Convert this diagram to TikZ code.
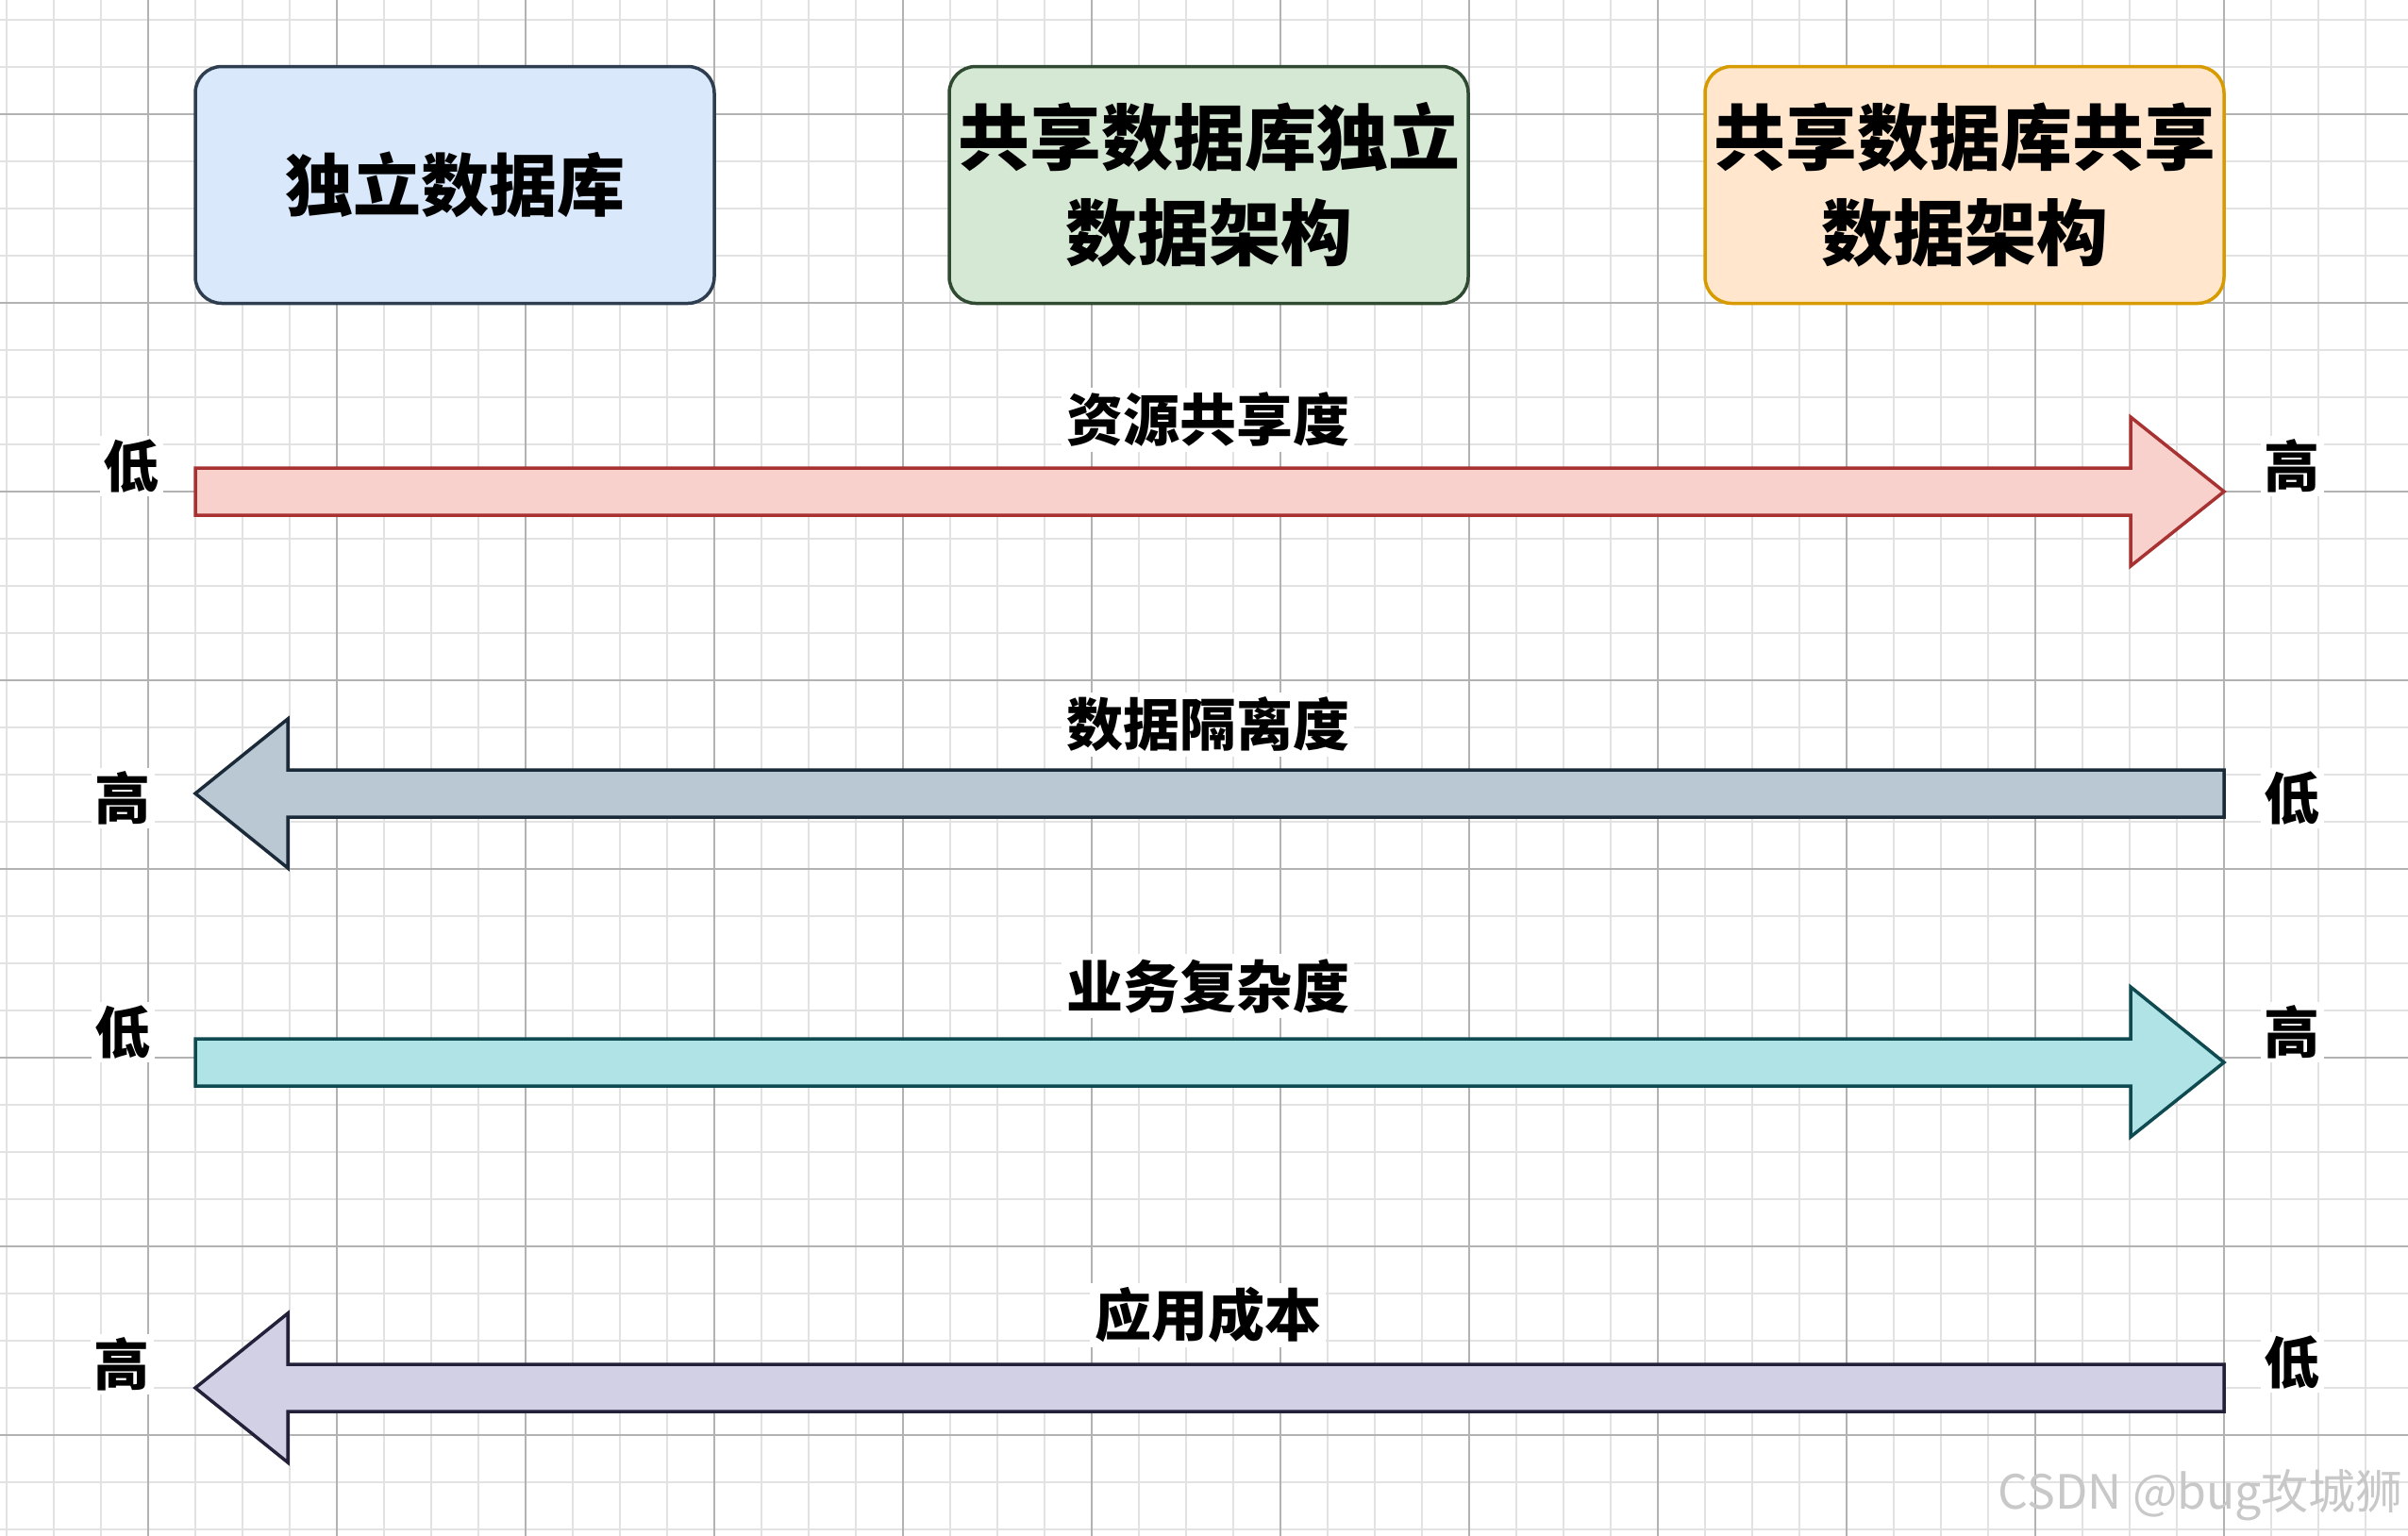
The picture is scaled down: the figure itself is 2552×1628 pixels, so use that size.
\documentclass[tikz,border=0pt]{standalone}
\usepackage{fontspec}
\setmainfont{Noto Sans CJK SC}
\definecolor{gridminor}{HTML}{E2E2E2}
\definecolor{gridmajor}{HTML}{B2B2B2}
\definecolor{bluefill}{HTML}{DAE8FC}
\definecolor{bluedraw}{HTML}{2E3D4F}
\definecolor{greenfill}{HTML}{D5E8D4}
\definecolor{greendraw}{HTML}{2F4A30}
\definecolor{orangefill}{HTML}{FFE6CC}
\definecolor{orangedraw}{HTML}{D79B00}
\definecolor{redfill}{HTML}{F8D0CC}
\definecolor{reddraw}{HTML}{A83232}
\definecolor{slatefill}{HTML}{BAC8D3}
\definecolor{slatedraw}{HTML}{1A2A38}
\definecolor{tealfill}{HTML}{B0E3E6}
\definecolor{tealdraw}{HTML}{0E4A50}
\definecolor{lavfill}{HTML}{D2D0E4}
\definecolor{lavdraw}{HTML}{23213A}
\definecolor{wmark}{HTML}{C8C8C8}
\tikzset{
  archbox/.style={rounded corners=28, line width=3.5, minimum width=550, minimum height=251,
    align=center, inner sep=0, font=\fontsize{76}{101}\selectfont\bfseries},
  barlabel/.style={font=\fontsize{60}{60}\selectfont\bfseries, fill=white, inner sep=5},
  endlabel/.style={font=\fontsize{59}{59}\selectfont\bfseries, fill=white, inner sep=4},
  blockarrow/.style={line width=3.5, line join=miter},
}
\begin{document}
\begin{tikzpicture}[x=1pt,y=-1pt]
\useasboundingbox (0,0) rectangle (2552,1628);
\fill[white] (0,0) rectangle (2552,1628);
% grid
\foreach \gx in {7,57,...,2552} \draw[gridminor, line width=1.6] (\gx,0) -- (\gx,1628);
\foreach \gy in {21,71,...,1628} \draw[gridminor, line width=1.6] (0,\gy) -- (2552,\gy);
\foreach \gx in {157,357,...,2552} \draw[gridmajor, line width=1.8] (\gx,0) -- (\gx,1628);
\foreach \gy in {121,321,...,1628} \draw[gridmajor, line width=1.8] (0,\gy) -- (2552,\gy);

% boxes
\node[archbox, fill=bluefill, draw=bluedraw, font=\fontsize{72}{101}\selectfont\bfseries] (indep) at (482,196) {独立数据库};
\node[archbox, fill=greenfill, draw=greendraw] (sharedindep) at (1281,196) {共享数据库独立\\数据架构};
\node[archbox, fill=orangefill, draw=orangedraw] (sharedshared) at (2082,196) {共享数据库共享\\数据架构};

% arrow 1: resource sharing (right)
\draw[blockarrow, fill=redfill, draw=reddraw]
  (207,496) -- (2258,496) -- (2258,442) -- (2357,521) -- (2258,600) -- (2258,546) -- (207,546) -- cycle;
\node[barlabel] (l1) at (1280,445) {资源共享度};
\node[endlabel] (l1a) at (139,494) {低};
\node[endlabel] (l1b) at (2429,494) {高};

% arrow 2: isolation (left)
\draw[blockarrow, fill=slatefill, draw=slatedraw]
  (2357,816) -- (305,816) -- (305,762) -- (207,841) -- (305,920) -- (305,866) -- (2357,866) -- cycle;
\node[barlabel] (l2) at (1280,768) {数据隔离度};
\node[endlabel] (l2a) at (130,846) {高};
\node[endlabel] (l2b) at (2429,846) {低};

% arrow 3: business complexity (right)
\draw[blockarrow, fill=tealfill, draw=tealdraw]
  (207,1101) -- (2258,1101) -- (2258,1046) -- (2357,1126) -- (2258,1205) -- (2258,1151) -- (207,1151) -- cycle;
\node[barlabel] (l3) at (1280,1045) {业务复杂度};
\node[endlabel] (l3a) at (130,1094) {低};
\node[endlabel] (l3b) at (2429,1094) {高};

% arrow 4: cost (left)
\draw[blockarrow, fill=lavfill, draw=lavdraw]
  (2357,1446) -- (305,1446) -- (305,1392) -- (207,1471) -- (305,1550) -- (305,1496) -- (2357,1496) -- cycle;
\node[barlabel] (l4) at (1280,1394) {应用成本};
\node[endlabel] (l4a) at (129,1446) {高};
\node[endlabel] (l4b) at (2429,1444) {低};

% watermark
\node[text=wmark, font=\fontsize{50}{50}\selectfont, anchor=east, inner sep=0] (wm) at (2547,1585) {CSDN @bug攻城狮};
\end{tikzpicture}
\end{document}
